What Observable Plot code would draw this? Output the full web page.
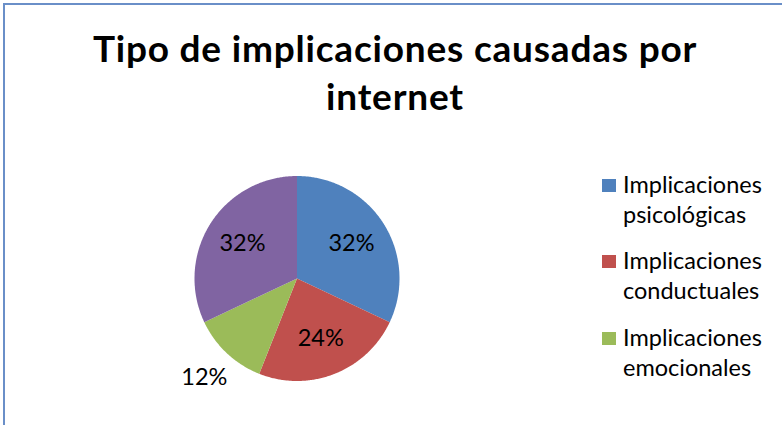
<!DOCTYPE html>
<html>
<head>
<meta charset="utf-8">
<script src="https://cdn.jsdelivr.net/npm/d3@7"></script>
<script src="https://cdn.jsdelivr.net/npm/@observablehq/plot@0.6"></script>
<style>
  body { margin: 0; background: #fff; }
  #wrap { position: relative; width: 782px; height: 425px; overflow: hidden; background: #fff; font-family: Lato, "Open Sans", sans-serif; }
  #border { position: absolute; left: 3px; top: 3px; width: 900px; height: 600px; border-left: 2px solid #6a8fc8; border-top: 2px solid #6a8fc8; box-sizing: border-box; }
  #chart { position: absolute; left: 0; top: 0; }
  .title { position: absolute; left: 0; width: 790px; text-align: center; font-weight: bold; font-size: 37px; line-height: 1.2; letter-spacing: 0.8px; color: #000; white-space: nowrap; }
  .leg { position: absolute; left: 602px; }
  .leg .sw { position: absolute; left: 0; top: 0; width: 14px; height: 13px; }
  .leg .tx { position: absolute; left: 21px; top: -10px; font-size: 23.5px; line-height: 30px; color: #000; white-space: nowrap; }
</style>
</head>
<body>
<div id="wrap">
  <div id="border"></div>
  <div id="chart"></div>
  <div class="title" id="t1" style="top:25.5px"></div>
  <div class="title" id="t2" style="top:73.5px"></div>
  <div id="legend"></div>
</div>
<script>
const titleLines = ["Tipo de implicaciones causadas por", "internet"];
const categories = ["Implicaciones psicológicas", "Implicaciones conductuales", "Implicaciones emocionales", "Otras implicaciones"];
const legendLines = [["Implicaciones", "psicológicas"], ["Implicaciones", "conductuales"], ["Implicaciones", "emocionales"]];
const values = [32, 24, 12, 32];
const labels = ["32%", "24%", "12%", "32%"];
const colors = ["#4f81bd", "#c0504d", "#9bbb59", "#8064a2"];

document.getElementById("t1").textContent = titleLines[0];
document.getElementById("t2").textContent = titleLines[1];

const W = 782, H = 425, cx = 296.5, cy = 278, R = 102.5;
const arcs = d3.pie().sort(null).value(d => d)(values);

const pts = [];
arcs.forEach((a, i) => {
  const cat = categories[i];
  pts.push({cat, x: 0, y: 0});
  const n = Math.max(2, Math.ceil((a.endAngle - a.startAngle) / 0.01));
  for (let k = 0; k <= n; k++) {
    const t = a.startAngle + (a.endAngle - a.startAngle) * k / n;
    pts.push({cat, x: Math.sin(t), y: Math.cos(t)});
  }
  pts.push({cat, x: 0, y: 0});
});

const lbl = arcs.map((a, i) => {
  const m = (a.startAngle + a.endAngle) / 2;
  const r = values[i] < 15 ? 1.32 : 0.63;
  return {text: labels[i], x: Math.sin(m) * r, y: Math.cos(m) * r};
});

const plot = Plot.plot({
  width: W, height: H, margin: 0,
  style: {fontFamily: "Lato, 'Open Sans', sans-serif", background: "transparent"},
  x: {domain: [-cx / R, (W - cx) / R], axis: null},
  y: {domain: [-(H - cy) / R, cy / R], axis: null},
  color: {domain: categories, range: colors},
  marks: [
    Plot.line(pts, {x: "x", y: "y", z: "cat", fill: "cat", stroke: "none", curve: "linear"}),
    Plot.text(lbl, {x: "x", y: "y", text: "text", fontSize: 23.5, fill: "#000"})
  ]
});
document.getElementById("chart").appendChild(plot);

const legend = document.getElementById("legend");
legendLines.forEach((lines, i) => {
  const d = document.createElement("div");
  d.className = "leg";
  d.style.top = (179 + i * 76.3) + "px";
  d.innerHTML = `<div class="sw" style="background:${colors[i]}"></div><div class="tx">${lines.join("<br>")}</div>`;
  legend.appendChild(d);
});
</script>
</body>
</html>
